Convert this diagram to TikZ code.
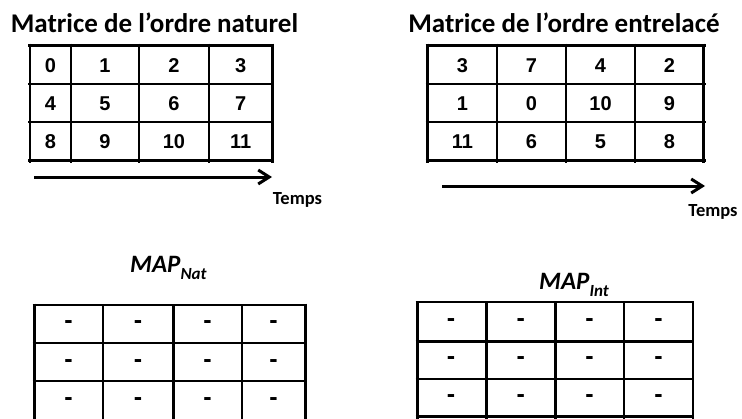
\documentclass[tikz,border=0pt]{standalone}
\usepackage{fontspec}
\setmainfont{Carlito}
\newfontfamily\numfont{Liberation Sans}
\usetikzlibrary{arrows.meta}
\begin{document}
\begin{tikzpicture}[x=1pt,y=-1pt,
  thk/.style={line width=2.7pt},
  xthk/.style={line width=3pt},
  thn/.style={line width=1.4pt},
  num/.style={font=\numfont\bfseries\fontsize{20}{22}\selectfont, inner sep=0pt},
  dashtxt/.style={font=\numfont\bfseries\fontsize{25}{27}\selectfont, inner sep=0pt},
  title/.style={font=\bfseries\fontsize{27}{31}\selectfont, inner sep=0pt, anchor=base},
  temps/.style={font=\bfseries\fontsize{18.5}{22}\selectfont, inner sep=0pt, anchor=base},
  maptitle/.style={font=\bfseries\itshape\fontsize{25}{29}\selectfont, inner sep=0pt, anchor=base west},
  timearrow/.style={line width=3pt, -{Straight Barb[length=11pt,width=14pt]}}
]
\useasboundingbox (0,0) rectangle (742,418);

% titles
\node[title] (t1) at (154.5,32) {Matrice de l’ordre naturel};
\node[title] (t2) at (564,32) {Matrice de l’ordre entrelacé};

% natural order matrix
\foreach \x in {30,71,139,209,272.5} \draw[thk] (\x,43.5) -- (\x,162.5);
\foreach \y in {45.5,84,122,160.5} \draw[thk] (28,\y) -- (274,\y);
\foreach \v [count=\i from 0] in {0,1,2,3,4,5,6,7,8,9,10,11} {
  \pgfmathtruncatemacro{\r}{int(\i/4)}
  \pgfmathtruncatemacro{\c}{mod(\i,4)}
  \pgfmathsetmacro{\cx}{{50.5,105,174,240.7}[\c]}
  \pgfmathsetmacro{\cy}{{66,104,142}[\r]}
  \node[num] (n\i) at (\cx,\cy) {\v};
}

% interleaved order matrix
\foreach \x in {427.7,497,566,635,703.7} \draw[thk] (\x,43.5) -- (\x,162.5);
\foreach \y in {45.5,84,122,160.5} \draw[thk] (425.7,\y) -- (705.7,\y);
\foreach \v [count=\i from 0] in {3,7,4,2,1,0,10,9,11,6,5,8} {
  \pgfmathtruncatemacro{\r}{int(\i/4)}
  \pgfmathtruncatemacro{\c}{mod(\i,4)}
  \pgfmathsetmacro{\cx}{{462.4,531.5,600.5,669.4}[\c]}
  \pgfmathsetmacro{\cy}{{66,104,142}[\r]}
  \node[num] (m\i) at (\cx,\cy) {\v};
}

% time arrows
\coordinate (a1s) at (34,177);
\coordinate (a1e) at (272,177);
\draw[timearrow] (a1s) -- (a1e);
\node[temps] (tp1) at (297.5,204) {Temps};
\coordinate (a2s) at (442,186);
\coordinate (a2e) at (705,186);
\draw[timearrow] (a2s) -- (a2e);
\node[temps] (tp2) at (713,216) {Temps};

% MAP titles
\node[maptitle] (mapnat) at (130,272) {MAP\raisebox{-7pt}{\fontsize{17}{19}\selectfont Nat}};
\node[maptitle] (mapint) at (539,289) {MAP\raisebox{-7pt}{\fontsize{17}{19}\selectfont Int}};

% MAP Nat table (bottom cut off)
\draw[xthk] (34,303.5) -- (34,420);
\draw[thn] (103,305) -- (103,420);
\draw[xthk] (173,305) -- (173,420);
\draw[thn] (242,305) -- (242,420);
\draw[xthk] (305,303.5) -- (305,420);
\foreach \y in {305,343,381} \draw[thk] (32.5,\y) -- (306.5,\y);
\foreach \i in {0,...,11} {
  \pgfmathtruncatemacro{\r}{int(\i/4)}
  \pgfmathtruncatemacro{\c}{mod(\i,4)}
  \pgfmathsetmacro{\cx}{{68.5,138,207.5,273.5}[\c]}
  \pgfmathsetmacro{\cy}{{325,363.5,402}[\r]}
  \node[dashtxt] (p\i) at (\cx,\cy) {-};
}

% MAP Int table
\draw[xthk] (417,301) -- (417,418.5);
\draw[xthk] (486,301) -- (486,418.5);
\draw[xthk] (555,301) -- (555,418.5);
\draw[thn] (624,301) -- (624,418.5);
\draw[thn] (693,301) -- (693,418.5);
\draw[thn] (415.5,302) -- (694,302);
\draw[xthk] (415.5,341) -- (694,341);
\draw[thn] (415.5,379) -- (694,379);
\draw[xthk] (415.5,416.5) -- (694,416.5);
\foreach \i in {0,...,11} {
  \pgfmathtruncatemacro{\r}{int(\i/4)}
  \pgfmathtruncatemacro{\c}{mod(\i,4)}
  \pgfmathsetmacro{\cx}{{451,520.7,589.5,658.5}[\c]}
  \pgfmathsetmacro{\cy}{{322.3,361,399}[\r]}
  \node[dashtxt] (q\i) at (\cx,\cy) {-};
}
\end{tikzpicture}
\end{document}
